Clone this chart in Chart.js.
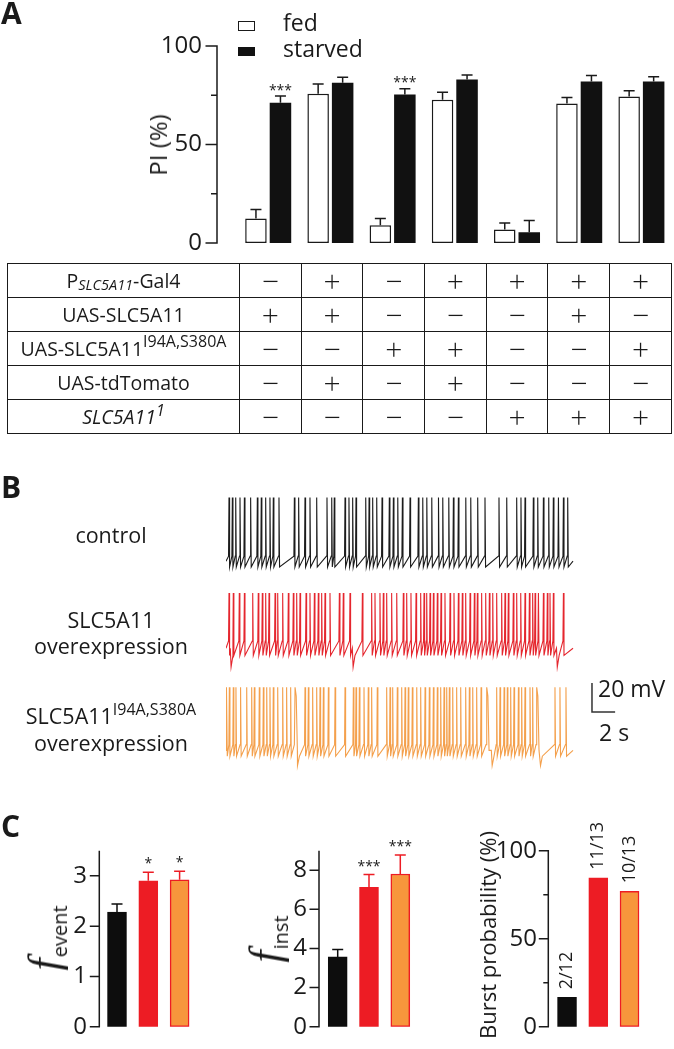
<!DOCTYPE html>
<html><head><meta charset="utf-8">
<script src="https://cdn.jsdelivr.net/npm/chart.js@4.4.1/dist/chart.umd.min.js"></script>
<style>
html,body{margin:0;padding:0;background:#fff}
body{width:674px;height:1049px;position:relative;overflow:hidden;font-family:'Open Sans',sans-serif;color:#1a1a1a}
canvas{position:absolute}
.t{position:absolute;white-space:nowrap;line-height:1}
.cx{transform:translateX(-50%)}
.panel{font-weight:700;font-size:30px}
.rot{position:absolute;white-space:nowrap;line-height:1;transform:translate(-50%,-50%) rotate(-90deg)}
#grid{position:absolute;left:7px;top:263px;display:grid;grid-template-columns:232px repeat(7,61.7px);grid-template-rows:repeat(5,34px);border-left:1.5px solid #1a1a1a;border-top:1.5px solid #1a1a1a}
#grid div{border-right:1.5px solid #1a1a1a;border-bottom:1.5px solid #1a1a1a;display:flex;align-items:center;justify-content:center;box-sizing:border-box;white-space:nowrap;line-height:1}
#grid .lab{font-size:19.5px}
#grid .sg{font-size:30px;font-weight:300}
.lab sub{font-size:14.5px;font-style:italic;vertical-align:baseline;position:relative;top:5px}
.lab sup{font-size:16px;vertical-align:baseline;position:relative;top:-8px}
.box{position:absolute;box-sizing:border-box}
.fi{font-family:'Liberation Serif',serif;font-style:italic;font-size:44px}
.fs{font-size:20px;position:relative;top:8px;margin-left:1px}
.bl{font-size:21.5px}
.bl sup{font-size:16px;vertical-align:baseline;position:relative;top:-9px}
</style></head><body>

<canvas id="cA" width="674" height="262" style="left:0;top:0"></canvas>
<canvas id="cB" width="674" height="300" style="left:0;top:480px"></canvas>
<canvas id="cC1" width="212" height="229" style="left:0;top:820px"></canvas>
<canvas id="cC2" width="218" height="229" style="left:212px;top:820px"></canvas>
<canvas id="cC3" width="244" height="229" style="left:430px;top:820px"></canvas>

<div class="t panel" style="left:1px;top:-2px">A</div>
<div class="box" style="left:238px;top:21px;width:16.5px;height:9.5px;border:1.5px solid #1a1a1a;background:#fff"></div>
<div class="box" style="left:238px;top:46.5px;width:16.5px;height:9px;background:#111"></div>
<div class="t" style="left:283px;top:11.3px;font-size:23px">fed</div>
<div class="t" style="left:283px;top:37.1px;font-size:23px">starved</div>
<div class="rot" style="left:158px;top:145px;font-size:24px">PI (%)</div>
<div id="grid"></div>

<div class="t panel" style="left:1px;top:472px">B</div>
<div class="t cx bl" style="left:111px;top:524px">control</div>
<div class="t cx bl" style="left:111px;top:609px">SLC5A11</div>
<div class="t cx bl" style="left:111px;top:635px">overexpression</div>
<div class="t cx bl" style="left:111px;top:705px">SLC5A11<sup>I94A,S380A</sup></div>
<div class="t cx bl" style="left:111px;top:732px">overexpression</div>
<div class="t" style="left:598px;top:676.6px;font-size:23px">20 mV</div>
<div class="t" style="left:599px;top:721.3px;font-size:23px">2 s</div>

<div class="t panel" style="left:1px;top:811px">C</div>
<div class="rot" style="left:45px;top:938px"><span class="fi">f</span><span class="fs">event</span></div>
<div class="rot" style="left:266px;top:939px"><span class="fi">f</span><span class="fs">inst</span></div>
<div class="rot" style="left:487px;top:935px;font-size:22px">Burst probability (%)</div>

<script>
// ---------------- Panel A data ----------------
const genotypes = ['G1', 'G2', 'G3', 'G4', 'G5', 'G6', 'G7'];
const fedPI = [12.4, 75.8, 9.0, 72.7, 6.8, 70.8, 74.4];
const fedSEM = [4.6, 4.9, 3.5, 3.8, 3.4, 3.1, 2.9];
const starvedPI = [71.2, 81.4, 75.4, 83.0, 5.4, 82.0, 82.0];
const starvedSEM = [3.4, 2.8, 2.9, 2.3, 6.0, 3.0, 2.4];
const starvedSig = ['***', '', '***', '', '', '', ''];
const piTickLabels = [0, 50, 100];

const tableLabels = [
  'P<sub>SLC5A11</sub>-Gal4',
  'UAS-SLC5A11',
  'UAS-SLC5A11<sup>I94A,S380A</sup>',
  'UAS-tdTomato',
  '<i>SLC5A11<sup>1</sup></i>'
];
const tableSigns = [
  ['−', '+', '−', '+', '+', '+', '+'],
  ['+', '+', '−', '−', '−', '+', '−'],
  ['−', '−', '+', '+', '−', '−', '+'],
  ['−', '+', '−', '+', '−', '−', '−'],
  ['−', '−', '−', '−', '+', '+', '+']
];

// ---------------- Panel B data (spike times, s) ----------------
const traceSeconds = 30;
const controlSpikes = [0.26,0.55,0.84,1.21,1.59,2.13,2.71,3.05,3.43,3.80,4.09,4.58,5.91,6.28,6.83,7.26,7.84,8.73,9.14,9.36,10.29,10.63,10.95,11.24,12.08,12.37,12.68,13.03,13.49,14.12,14.47,14.85,15.25,15.91,16.63,17.01,17.36,17.79,18.37,18.74,19.26,19.66,20.09,20.73,21.16,21.76,22.39,23.60,24.27,25.13,25.50,25.85,26.57,26.95,27.44,27.90,28.30,28.74,29.17,29.54];
const oeSpikes = [0.26,0.63,1.15,1.59,2.31,2.79,3.14,3.43,3.72,4.24,4.47,4.90,5.39,5.82,6.11,6.40,6.92,7.26,7.64,7.98,8.27,8.56,8.99,9.80,10.14,10.72,11.79,12.59,12.88,13.31,13.60,13.89,14.32,14.76,15.33,15.62,15.99,16.43,16.83,17.12,17.35,17.64,17.93,18.27,18.59,18.93,19.37,19.71,20.09,20.43,20.72,21.10,21.47,21.73,22.10,22.45,22.77,23.06,23.40,23.83,24.12,24.41,24.84,25.13,25.48,25.85,26.23,26.51,26.72,27.01,27.44,27.78,28.01,28.30,29.17];
const oeDips = [0.40, 10.95, 28.60];
const mutSpikes = [0.06,0.29,0.63,0.86,1.26,1.79,2.22,2.45,2.88,3.23,3.52,3.80,4.09,4.47,4.90,5.24,5.59,6.83,7.12,7.49,7.84,8.13,8.42,8.85,9.43,10.29,11.01,11.24,11.53,11.93,12.30,12.59,13.08,13.89,14.18,14.41,14.81,15.19,15.48,15.76,16.11,16.49,16.83,17.21,17.58,17.93,18.27,18.56,18.85,19.08,19.31,19.60,19.94,20.29,20.72,21.04,21.33,21.67,22.05,23.40,23.69,24.04,24.32,24.61,24.90,25.28,25.56,25.85,26.28,26.51,28.44,28.87,29.39];
const mutBroadSpikes = [5.97, 22.54, 26.86];
const mutDips = [6.15, 22.97, 27.15];
const scaleBarMV = 20;
const scaleBarSec = 2;

// ---------------- Panel C data ----------------
const cGroups = ['control', 'SLC5A11 overexpression', 'SLC5A11 I94A,S380A overexpression'];
const fEvent = [2.28, 2.90, 2.92];
const fEventSEM = [0.16, 0.17, 0.17];
const fEventSig = ['', '*', '*'];
const fEventTickLabels = [0, 1, 2, 3];
const fInst = [3.57, 7.13, 7.81];
const fInstSEM = [0.38, 0.65, 0.97];
const fInstSig = ['', '***', '***'];
const fInstTickLabels = [0, 2, 4, 6, 8];
const burstProb = [16.7, 84.6, 76.9];
const burstLabels = ['2/12', '11/13', '10/13'];
const burstTickLabels = [0, 50, 100];

// ---------------- table ----------------
const grid = document.getElementById('grid');
tableLabels.forEach((lab, r) => {
  const d = document.createElement('div'); d.className = 'lab'; d.innerHTML = lab; grid.appendChild(d);
  tableSigns[r].forEach(s => { const c = document.createElement('div'); c.className = 'sg'; c.textContent = s; grid.appendChild(c); });
});

// ---------------- charts ----------------
const FONT = "'Open Sans', sans-serif";
const INK = '#1a1a1a';
Chart.defaults.font.family = FONT;
Chart.defaults.color = INK;

// error bars, significance stars, rotated bar labels and the y axis line/ticks
const decor = {
  id: 'decor',
  afterDatasetsDraw(chart, args, o) {
    const ctx = chart.ctx, ys = chart.scales.y;
    ctx.save();
    chart.data.datasets.forEach((ds, di) => {
      const meta = chart.getDatasetMeta(di);
      meta.data.forEach((el, i) => {
        const v = ds.data[i];
        const top = ys.getPixelForValue(v);
        let et = top;
        if (ds.sem) {
          et = ys.getPixelForValue(v + ds.sem[i]);
          ctx.strokeStyle = Array.isArray(ds.errColor) ? ds.errColor[i] : ds.errColor;
          ctx.lineWidth = 1.5;
          ctx.beginPath();
          ctx.moveTo(el.x, top); ctx.lineTo(el.x, et);
          ctx.moveTo(el.x - o.cap, et); ctx.lineTo(el.x + o.cap, et);
          ctx.stroke();
        }
        if (ds.sig && ds.sig[i]) {
          ctx.fillStyle = INK; ctx.font = '14px ' + FONT;
          ctx.textAlign = 'center'; ctx.textBaseline = 'alphabetic';
          ctx.fillText(ds.sig[i], el.x, et - o.starGap);
        }
        if (ds.rotLabels) {
          ctx.save();
          ctx.translate(el.x, top - 8); ctx.rotate(-Math.PI / 2);
          ctx.fillStyle = INK; ctx.font = '18px ' + FONT;
          ctx.textAlign = 'left'; ctx.textBaseline = 'middle';
          ctx.fillText(ds.rotLabels[i], 0, 0);
          ctx.restore();
        }
      });
    });
    // y axis line and tick marks, placed a little left of the first category
    const ax = chart.chartArea.left - o.axisGap;
    ctx.strokeStyle = INK; ctx.lineWidth = 1.5; ctx.lineCap = 'butt';
    ctx.beginPath();
    ctx.moveTo(ax, ys.getPixelForValue(ys.max)); ctx.lineTo(ax, ys.getPixelForValue(ys.min));
    ys.ticks.forEach(t => {
      const y = ys.getPixelForValue(t.value);
      const len = o.labels.includes(t.value) ? o.majorLen : o.minorLen;
      ctx.moveTo(ax - len, y); ctx.lineTo(ax + 0.75, y);
    });
    ctx.stroke();
    ctx.restore();
  }
};

// labels sit (offset + pad) left of the plotting area; offset is an undrawn tick length
function yAxis(max, step, labels, width, offset, pad) {
  return {
    min: 0, max: max,
    afterFit(s) { s.width = width; },
    ticks: { stepSize: step, font: { size: 24 }, color: INK, padding: pad,
      callback: v => labels.includes(v) ? String(v) : '' },
    grid: { display: false, drawTicks: true, tickLength: offset },
    border: { display: false }
  };
}

// Panel A
new Chart(document.getElementById('cA'), {
  type: 'bar',
  data: { labels: genotypes, datasets: [
    { label: 'fed', data: fedPI, backgroundColor: '#fff', borderColor: INK, borderWidth: 1.5, borderSkipped: false, sem: fedSEM, errColor: INK },
    { label: 'starved', data: starvedPI, backgroundColor: '#111', borderWidth: 0, sem: starvedSEM, errColor: INK, sig: starvedSig }
  ]},
  options: {
    responsive: false, animation: false,
    layout: { padding: { top: 46, bottom: 19, left: 0, right: 1.5 } },
    datasets: { bar: { categoryPercentage: 0.788, barPercentage: 0.878 } },
    plugins: { legend: { display: false }, tooltip: { enabled: false },
      decor: { cap: 5.5, starGap: 1.5, labels: piTickLabels, axisGap: 20.1, majorLen: 11.5, minorLen: 6 } },
    scales: {
      x: { type: 'category', display: false, offset: true },
      y: yAxis(100, 25, piTickLabels, 237.1, 32.1, 3)
    }
  },
  plugins: [decor]
});

// Panel B traces
function buildTrace(spikes, broad, dips, lv) {
  const ev = [];
  spikes.forEach(t => ev.push([t, 's']));
  broad.forEach(t => ev.push([t, 'b']));
  dips.forEach(t => ev.push([t, 'd']));
  ev.sort((a, b) => a[0] - b[0]);
  const pts = [{ x: 0, y: lv.base }];
  const add = (x, y) => { const last = pts[pts.length - 1].x; pts.push({ x: Math.max(x, last + 0.001), y }); };
  ev.forEach(([t, k]) => {
    if (k === 's') { add(t - 0.04, lv.base + lv.ramp); add(t, lv.peak); add(t + 0.05, lv.base - lv.ahp); }
    else if (k === 'b') { add(t - 0.06, lv.base + lv.ramp); add(t, lv.peak); add(t + 0.1, lv.peak - 6); add(t + 0.2, lv.base); }
    else { add(t - 0.03, lv.base); add(t + 0.04, lv.dip); add(t + 0.2, lv.base - lv.ahp); }
  });
  add(traceSeconds, lv.base);
  return pts;
}
const sbX = traceSeconds + 1.64, sbY = -140;
new Chart(document.getElementById('cB'), {
  type: 'line',
  data: { datasets: [
    { label: 'control', data: buildTrace(controlSpikes, [], [], { base: -56, peak: -12, ramp: 3.5, ahp: 4 }), borderColor: '#1c1c1c' },
    { label: 'SLC5A11 overexpression', data: buildTrace(oeSpikes, [], oeDips, { base: -116, peak: -78, ramp: 5, ahp: 5, dip: -129 }), borderColor: '#e5262e' },
    { label: 'SLC5A11 I94A,S380A overexpression', data: buildTrace(mutSpikes, mutBroadSpikes, mutDips, { base: -186.5, peak: -143, ramp: 4, ahp: 4, dip: -197 }), borderColor: '#f4a04c' },
    { label: 'scale', data: [{ x: sbX, y: sbY }, { x: sbX, y: sbY - scaleBarMV }, { x: sbX + scaleBarSec, y: sbY - scaleBarMV }], borderColor: '#333', borderWidth: 1.5 }
  ]},
  options: {
    responsive: false, animation: false,
    elements: { point: { radius: 0 }, line: { borderWidth: 1.1, tension: 0 } },
    layout: { padding: { left: 226, right: 0, top: 0, bottom: 0 } },
    plugins: { legend: { display: false }, tooltip: { enabled: false } },
    scales: {
      x: { type: 'linear', display: false, min: 0, max: 38.73 },
      y: { type: 'linear', display: false, min: -206.9, max: 0 }
    }
  }
});

// Panel C
const cColors = ['#0d0d0d', '#ed1c24', '#f7963c'];
const cBorders = ['#0d0d0d', '#ed1c24', '#ed1c24'];
const cErr = ['#0d0d0d', '#ed1c24', '#ed1c24'];
function makeC(id, vals, extra, cfg) {
  return new Chart(document.getElementById(id), {
    type: 'bar',
    data: { labels: cGroups, datasets: [Object.assign({
      data: vals,
      backgroundColor: cColors, borderColor: cBorders, borderWidth: 1.5, borderSkipped: false,
      barThickness: 19, errColor: cErr
    }, extra)] },
    options: {
      responsive: false, animation: false,
      layout: { padding: { top: 30.7, bottom: 22.3, left: 0, right: cfg.padRight } },
      plugins: { legend: { display: false }, tooltip: { enabled: false },
        decor: { cap: 5.5, starGap: 4, labels: cfg.labels, axisGap: cfg.axisGap, majorLen: 9.5, minorLen: 5 } },
      scales: {
        x: { type: 'category', display: false, offset: true },
        y: yAxis(cfg.ymax, cfg.step, cfg.labels, cfg.axisW, cfg.labelOffset, 2)
      }
    },
    plugins: [decor]
  });
}
makeC('cC1', fEvent, { sem: fEventSEM, sig: fEventSig }, { ymax: 3.5, step: 0.5, labels: fEventTickLabels, axisW: 101.35, padRight: 16.75, axisGap: 2.05, labelOffset: 12.35 });
makeC('cC2', fInst, { sem: fInstSEM, sig: fInstSig }, { ymax: 9, step: 1, labels: fInstTickLabels, axisW: 110.05, padRight: 14.05, axisGap: 3.05, labelOffset: 13.05 });
makeC('cC3', burstProb, { rotLabels: burstLabels }, { ymax: 100, step: 25, labels: burstTickLabels, axisW: 121.4, padRight: 28.85, axisGap: 3.1, labelOffset: 12.4 });
</script>
</body></html>
